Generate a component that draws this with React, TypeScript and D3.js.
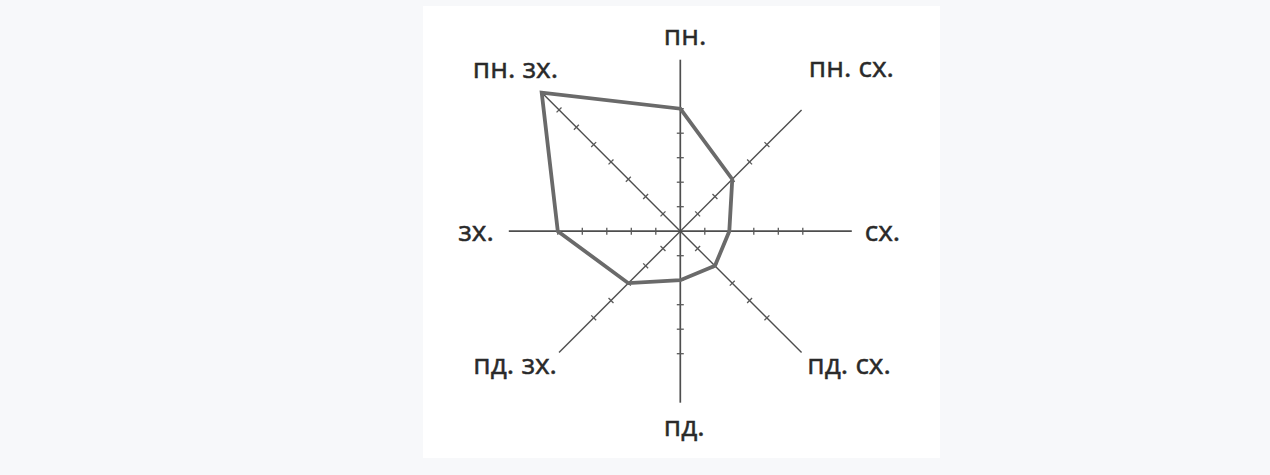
import React from 'react';
import * as d3 from 'd3';

// ---- data ----
const directions: string[] = ['пн.', 'пн. сх.', 'сх.', 'пд. сх.', 'пд.', 'пд. зх.', 'зх.', 'пн. зх.'];
const values: number[] = [5, 3, 2, 2, 2, 3, 5, 8];
const axisLengths: number[] = [7, 7, 7, 7, 7, 7, 7, 8];
const tickMax: number[] = [5, 5, 5, 5, 5, 5, 5, 7];

// ---- layout ----
const W = 1270;
const H = 475;
const CX = 680.3;
const CY = 231.2;
const UNIT_RANGE = 171.5; // px for 7 units
// label anchor (start) positions relative to centre
const labelPos: [number, number][] = [
  [-16.5, -186],
  [128.5, -154.5],
  [184.5, 9.5],
  [127, 142.5],
  [-16.5, 205],
  [-207, 143],
  [-222, 10],
  [-207.5, -153],
];

export default function App() {
  const r = d3.scaleLinear().domain([0, 7]).range([0, UNIT_RANGE]);
  const angle = (i: number) => (i * Math.PI) / 4;
  const pt = (i: number, v: number): [number, number] => [
    Math.sin(angle(i)) * r(v),
    -Math.cos(angle(i)) * r(v),
  ];

  const line = d3
    .lineRadial<number>()
    .angle((_d, i) => angle(i))
    .radius((d) => r(d))
    .curve(d3.curveLinearClosed);

  return (
    <div style={{ position: 'fixed', left: 0, top: 0, width: W, height: H }}>
      <svg width={W} height={H} style={{ display: 'block' }}>
        <rect x={0} y={0} width={W} height={H} fill="#f7f8fa" />
        <rect x={423} y={6} width={517} height={452} fill="#ffffff" />
        <g transform={`translate(${CX},${CY})`}>
          {directions.map((_d, i) => {
            const [x2, y2] = pt(i, axisLengths[i]);
            return (
              <line
                key={'ax' + i}
                x1={0}
                y1={0}
                x2={x2}
                y2={y2}
                stroke="#4e4e4e"
                strokeWidth={i % 2 === 0 ? 1.7 : 1.4}
              />
            );
          })}
          {directions.map((_d, i) => {
            const ticks = d3.range(1, tickMax[i] + 1);
            const a = angle(i);
            const px = Math.cos(a) * 3.5;
            const py = Math.sin(a) * 3.5;
            return ticks.map((t) => {
              const [x, y] = pt(i, t);
              return (
                <line
                  key={'t' + i + '-' + t}
                  x1={x - px}
                  y1={y - py}
                  x2={x + px}
                  y2={y + py}
                  stroke="#5a5a5a"
                  strokeWidth={1.3}
                />
              );
            });
          })}
          <path
            d={line(values) || ''}
            fill="none"
            stroke="#6a6a6a"
            strokeWidth={3.8}
            strokeLinejoin="miter"
          />
          {directions.map((d, i) => (
            <text
              key={'l' + i}
              x={labelPos[i][0]}
              y={labelPos[i][1]}
              fontFamily="'Open Sans', sans-serif"
              fontSize={28}
              fill="#2a2a2a"
              stroke="#2a2a2a"
              strokeWidth={0.5}
            >
              {d}
            </text>
          ))}
        </g>
      </svg>
    </div>
  );
}
